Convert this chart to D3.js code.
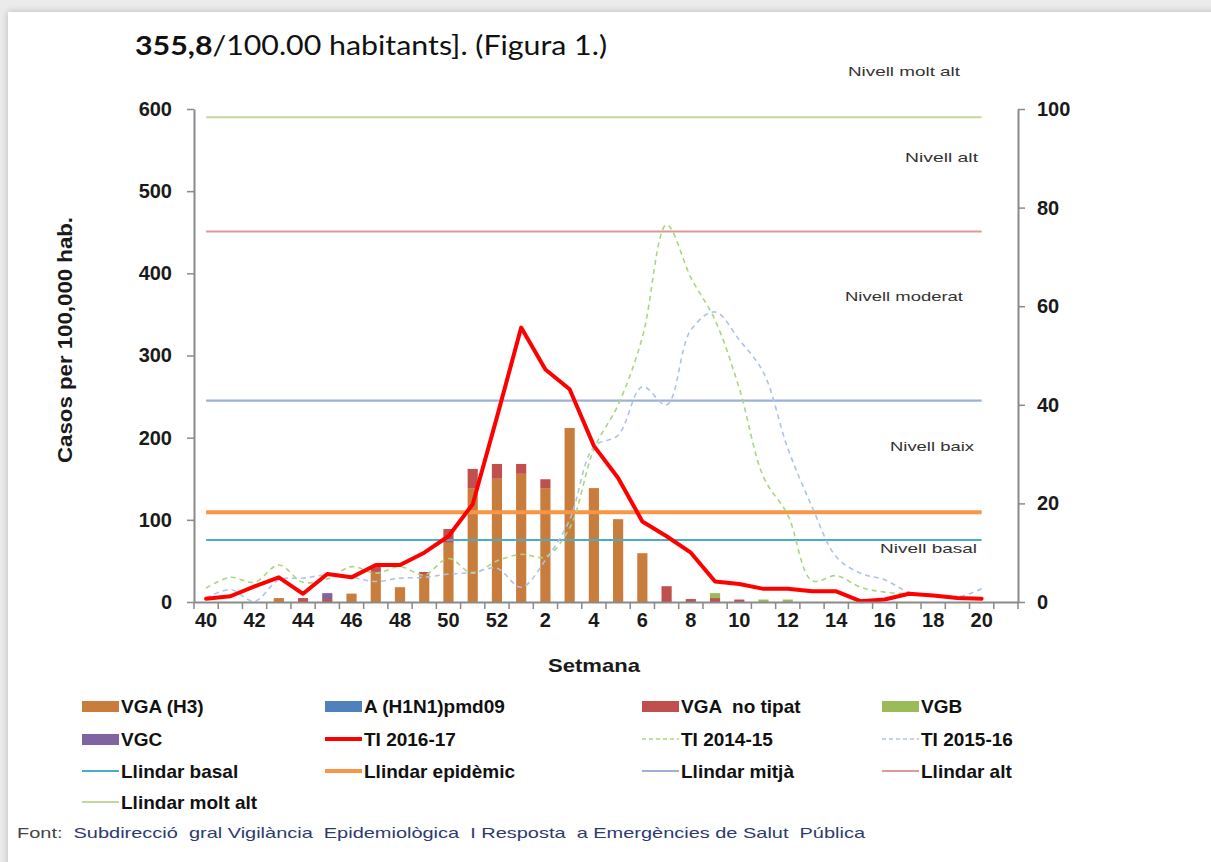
<!DOCTYPE html>
<html>
<head>
<meta charset="utf-8">
<script src="https://cdn.jsdelivr.net/npm/d3@7"></script>
<style>
body { margin: 0; background: #ebebeb; width: 1211px; height: 862px; overflow: hidden; position: relative; }
#card { position: absolute; left: 8px; top: 12px; width: 1215px; height: 870px; background: #fff; box-shadow: 0 0 7px rgba(0,0,0,0.22); }
svg { position: absolute; left: 0; top: 0; }
text { font-family: "Liberation Sans", Arial, sans-serif; }
</style>
</head>
<body>
<div id="card"></div>
<svg id="chart" width="1211" height="862"></svg>
<script>
// setmanes 40..52 i 1..21 (la 21 sense dades)
var weeks = [40,41,42,43,44,45,46,47,48,49,50,51,52,1,2,3,4,5,6,7,8,9,10,11,12,13,14,15,16,17,18,19,20,21]

// taxes d'incidencia (eix esquerre, casos per 100.000)
var ti1617 = [4,7,19,30,10,34,30,45,45,60,80,119,225,334,283,259,190,151,98,80,60,25,22,16,16,13,13,1,3,10,8,5,4]
var ti1415 = [17,30,24,45,24,28,43,35,43,33,53,35,50,58,55,90,186,240,322,459,395,343,260,152,106,26,32,18,12,10,8,6,5]
var ti1516 = [5,15,1,27,29,33,30,25,29,30,34,36,41,18,51,100,189,203,262,240,331,353,319,279,187,116,55,35,27,12,8,6,16]

// deteccions (eix dret)
var vgaH3 = [0,0,0,0.8,0,0,1.7,6.1,3,5.5,12,23.1,25,26,23.1,35.3,23.1,16.8,9.9,0,0,0,0,0,0,0,0,0,0,0,0,0,0]
var h1n1 = [0,0,0,0,0,0,0,0,0,0,0,0,0,0,0,0,0,0,0,0,0,0,0,0,0,0,0,0,0,0,0,0,0]
var vgaNoTipat = [0,0,0,0,0.8,0.6,0,1,0,0.6,2.8,3.9,3,2,1.8,0,0,0,0,3.2,0.6,0.8,0.5,0,0,0,0,0,0,0,0,0,0]
var vgb = [0,0,0,0,0,0,0,0,0,0,0,0,0,0,0,0,0,0,0,0,0,1,0,0.5,0.5,0,0,0,0,0,0,0,0]
var vgc = [0,0,0,0,0,1.2,0,0,0,0,0,0,0,0,0,0,0,0,0,0,0,0,0,0,0,0,0,0,0,0,0,0,0]

// llindars
var thresholdNames = ['Llindar basal','Llindar epidèmic','Llindar mitjà','Llindar alt','Llindar molt alt']
var thresholdValues = [75.4,109.2,245,451,590]

var leftTicks = [0,100,200,300,400,500,600]
var rightTicks = [0,20,40,60,80,100]
var levelLabels = ['Nivell molt alt','Nivell alt','Nivell moderat','Nivell baix','Nivell basal']

var svg = d3.select('#chart')
var font = '"Liberation Sans", Arial, sans-serif'

var x = d3.scaleBand().domain(weeks).range([194, 1018])
var xb = d3.scaleBand().domain(weeks).range([194, 1018]).paddingInner(0.58).paddingOuter(0.29)
var yL = d3.scaleLinear().domain([0, 600]).range([602, 109])
var yR = d3.scaleLinear().domain([0, 100]).range([602, 109])
var cx = function(w) { return x(w) + x.bandwidth() / 2 }

// text de capçalera
var head = svg.append('text')
    .attr('x', 135).attr('y', 55)
    .attr('textLength', 472).attr('lengthAdjust', 'spacingAndGlyphs')
    .style('font-family', 'Lato, "Open Sans", sans-serif')
    .style('font-size', '26px').attr('fill', '#111')
head.append('tspan').style('font-weight', 'bold').text('355,8')
head.append('tspan').text('/100.00 habitants]. (Figura 1.)')

// barres apilades
var rows = weeks.slice(0, 33).map(function(w, i) {
    return { week: w, h3: vgaH3[i], h1n1: h1n1[i], notipat: vgaNoTipat[i], vgb: vgb[i], vgc: vgc[i] }
})
var barColors = { h3: '#C87D3C', h1n1: '#4F81BD', notipat: '#C0504D', vgb: '#9BBB59', vgc: '#8064A2' }
var stacked = d3.stack().keys(['h3','h1n1','notipat','vgb','vgc'])(rows)
svg.append('g').selectAll('g')
    .data(stacked)
    .enter().append('g')
    .attr('fill', function(d) { return barColors[d.key] })
    .selectAll('rect')
    .data(function(d) { return d.filter(function(p) { return p[1] - p[0] > 0 }) })
    .enter().append('rect')
    .attr('x', function(d) { return xb(d.data.week) })
    .attr('width', xb.bandwidth())
    .attr('y', function(d) { return yR(d[1]) })
    .attr('height', function(d) { return yR(d[0]) - yR(d[1]) })

// llindars
var thrColors = ['#4BACC6','#F79646','#9FB0D6','#D99A98','#C4D79B']
var thrWidths = [2, 4, 2.2, 2, 2]
svg.append('g').selectAll('line')
    .data(thresholdValues)
    .enter().append('line')
    .attr('x1', cx(40)).attr('x2', cx(20))
    .attr('y1', function(d) { return yL(d) }).attr('y2', function(d) { return yL(d) })
    .attr('stroke', function(d, i) { return thrColors[i] })
    .attr('stroke-width', function(d, i) { return thrWidths[i] })

// corbes temporades anteriors
var smooth = d3.line()
    .x(function(d, i) { return cx(weeks[i]) })
    .y(function(d) { return yL(d) })
    .curve(d3.curveCatmullRom.alpha(0.5))
svg.append('path').datum(ti1415)
    .attr('d', smooth).attr('fill', 'none')
    .attr('stroke', '#A8D77E').attr('stroke-width', 1.6).attr('stroke-dasharray', '5,4')
svg.append('path').datum(ti1516)
    .attr('d', smooth).attr('fill', 'none')
    .attr('stroke', '#AEC3E6').attr('stroke-width', 1.6).attr('stroke-dasharray', '5,4')

var straight = d3.line()
    .x(function(d, i) { return cx(weeks[i]) })
    .y(function(d) { return yL(d) })
svg.append('path').datum(ti1617)
    .attr('d', straight).attr('fill', 'none')
    .attr('stroke', '#FF0000').attr('stroke-width', 4)
    .attr('stroke-linejoin', 'round').attr('stroke-linecap', 'round')

// etiquetes de nivell
var levelPos = [[848, 76, 112], [905, 162, 73], [845, 301, 118], [890, 451, 84], [880, 553, 97]]
svg.append('g').selectAll('text')
    .data(levelLabels)
    .enter().append('text')
    .attr('x', function(d, i) { return levelPos[i][0] })
    .attr('y', function(d, i) { return levelPos[i][1] })
    .attr('textLength', function(d, i) { return levelPos[i][2] })
    .attr('lengthAdjust', 'spacingAndGlyphs')
    .style('font-size', '13px').attr('fill', '#333')
    .text(function(d) { return d })

// eixos
function styleAxis(g) {
    g.selectAll('.domain').attr('stroke', '#8a8a8a').attr('stroke-width', 2)
    g.selectAll('.tick line').attr('stroke', '#8a8a8a').attr('stroke-width', 1.5)
    g.selectAll('.tick text').style('font-family', font).style('font-size', '20px')
        .style('font-weight', 'bold').attr('fill', '#1a1a1a')
}
svg.append('g')
    .attr('transform', 'translate(194,0)')
    .call(d3.axisLeft(yL).tickValues(leftTicks).tickSize(7).tickSizeOuter(0).tickPadding(15))
    .call(styleAxis)
svg.append('g')
    .attr('transform', 'translate(1018,0)')
    .call(d3.axisRight(yR).tickValues(rightTicks).tickSize(7).tickSizeOuter(0).tickPadding(12))
    .call(styleAxis)

var xAxis = svg.append('g').attr('transform', 'translate(0,602)')
xAxis.call(d3.axisBottom(x).tickSize(0).tickPadding(8)
        .tickFormat(function(w) { return (w % 2 === 0 && w !== 21) ? w : '' }))
    .call(styleAxis)
xAxis.selectAll('.tick text').attr('dy', '0.85em')
xAxis.selectAll('.boundary')
    .data(weeks.map(function(w) { return x(w) }).concat([x.range()[1]]))
    .enter().append('line')
    .attr('class', 'boundary')
    .attr('x1', function(d) { return d }).attr('x2', function(d) { return d })
    .attr('y1', 0).attr('y2', 7)
    .attr('stroke', '#8a8a8a').attr('stroke-width', 1.5)

svg.append('text')
    .attr('x', 548).attr('y', 672)
    .attr('textLength', 92).attr('lengthAdjust', 'spacingAndGlyphs')
    .style('font-size', '19px').style('font-weight', 'bold').attr('fill', '#1a1a1a')
    .text('Setmana')

svg.append('text')
    .attr('transform', 'translate(72,340) rotate(-90)')
    .attr('text-anchor', 'middle')
    .attr('textLength', 246).attr('lengthAdjust', 'spacingAndGlyphs')
    .style('font-size', '20px').style('font-weight', 'bold').attr('fill', '#1a1a1a')
    .text('Casos per 100,000 hab.')

// llegenda
var legendItems = [
    { name: 'VGA (H3)', type: 'rect', color: '#C87D3C' },
    { name: 'A (H1N1)pmd09', type: 'rect', color: '#4F81BD' },
    { name: 'VGA  no tipat', type: 'rect', color: '#C0504D' },
    { name: 'VGB', type: 'rect', color: '#9BBB59' },
    { name: 'VGC', type: 'rect', color: '#8064A2' },
    { name: 'TI 2016-17', type: 'line', color: '#FF0000', w: 4 },
    { name: 'TI 2014-15', type: 'dash', color: '#A8D77E', w: 1.6 },
    { name: 'TI 2015-16', type: 'dash', color: '#AEC3E6', w: 1.6 }
]
thresholdNames.forEach(function(n, i) {
    legendItems.push({ name: n, type: 'line', color: thrColors[i], w: thrWidths[i] })
})
var colX = [82, 325, 642, 882]
var rowY = [706, 739, 771, 802]
var leg = svg.append('g').selectAll('g')
    .data(legendItems)
    .enter().append('g')
    .attr('transform', function(d, i) { return 'translate(' + colX[i % 4] + ',' + rowY[Math.floor(i / 4)] + ')' })
leg.filter(function(d) { return d.type === 'rect' }).append('rect')
    .attr('x', 0).attr('y', -5).attr('width', 37).attr('height', 11)
    .attr('fill', function(d) { return d.color })
leg.filter(function(d) { return d.type !== 'rect' }).append('line')
    .attr('x1', 0).attr('x2', 37).attr('y1', 0).attr('y2', 0)
    .attr('stroke', function(d) { return d.color })
    .attr('stroke-width', function(d) { return d.w })
    .attr('stroke-dasharray', function(d) { return d.type === 'dash' ? '4,3' : null })
leg.append('text')
    .attr('x', 39).attr('y', 7)
    .style('font-size', '19px').style('font-weight', 'bold').style('white-space', 'pre')
    .attr('fill', '#111')
    .text(function(d) { return d.name })

// font
var foot = svg.append('text')
    .attr('x', 17).attr('y', 838)
    .attr('textLength', 848).attr('lengthAdjust', 'spacingAndGlyphs')
    .style('font-size', '15px').style('white-space', 'pre')
foot.append('tspan').attr('fill', '#444').text('Font:  ')
foot.append('tspan').attr('fill', '#2e3a6e')
    .text('Subdirecció  gral Vigilància  Epidemiològica  I Resposta  a Emergències de Salut  Pública')
</script>
</body>
</html>
